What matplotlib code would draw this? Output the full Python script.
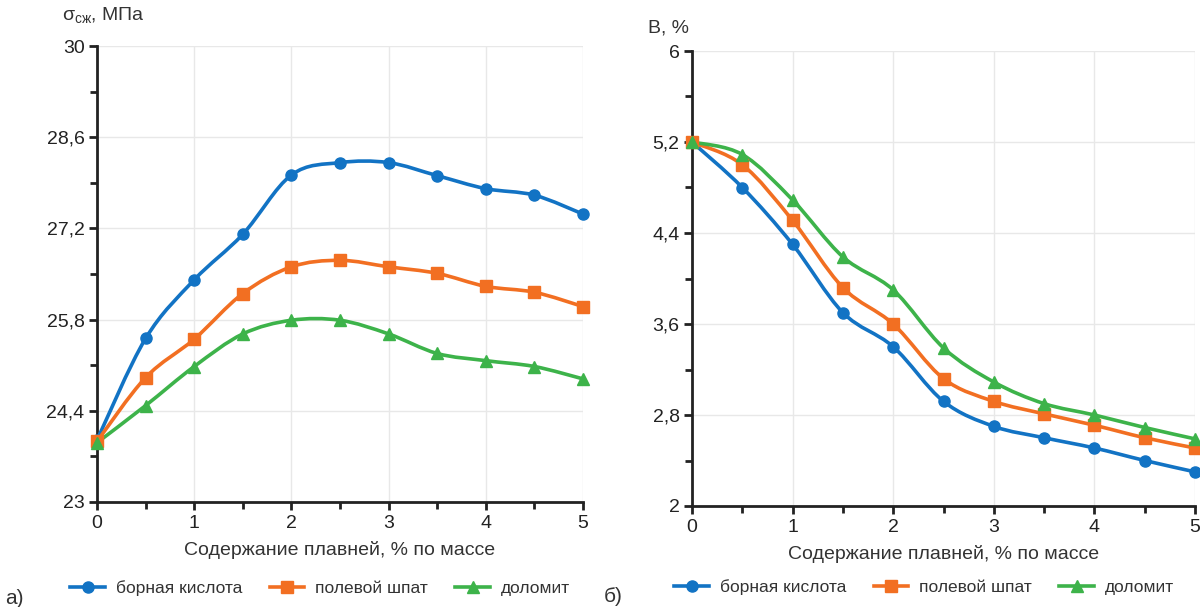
import matplotlib
matplotlib.use('Agg')
import matplotlib.pyplot as plt
import numpy as np
from matplotlib.path import Path
from matplotlib.patches import PathPatch
from matplotlib.lines import Line2D
from matplotlib.ticker import MultipleLocator, FuncFormatter

plt.rcParams['font.family'] = ['Liberation Sans', 'DejaVu Sans']

# Данные (содержание плавней, % по массе)
x_vals = [0, 0.5, 1, 1.5, 2, 2.5, 3, 3.5, 4, 4.5, 5]

# а) прочность при сжатии, МПа
sigma_bor = [23.95, 25.51, 26.41, 27.11, 28.02, 28.21, 28.21, 28.01, 27.81, 27.71, 27.42]
sigma_shpat = [23.93, 24.91, 25.50, 26.20, 26.61, 26.71, 26.61, 26.51, 26.31, 26.22, 26.00]
sigma_dolomit = [23.91, 24.48, 25.08, 25.58, 25.79, 25.79, 25.58, 25.28, 25.17, 25.08, 24.89]

# б) водопоглощение, %
b_bor = [5.2, 4.80, 4.30, 3.70, 3.40, 2.92, 2.70, 2.60, 2.51, 2.40, 2.30]
b_shpat = [5.2, 5.00, 4.51, 3.92, 3.60, 3.12, 2.92, 2.81, 2.71, 2.60, 2.51]
b_dolomit = [5.2, 5.09, 4.69, 4.19, 3.90, 3.39, 3.09, 2.90, 2.80, 2.69, 2.59]

names = ['борная кислота', 'полевой шпат', 'доломит']
colors = ['#1273c4', '#f26f22', '#3db34a']
markers = ['o', 's', '^']


def smooth_path(xs, ys, k=1/6):
    # кривая Безье через точки (как "сглаженная линия" в Excel)
    verts = [(xs[0], ys[0])]
    codes = [Path.MOVETO]
    n = len(xs)
    for i in range(n - 1):
        x0, y0 = (xs[i - 1], ys[i - 1]) if i > 0 else (xs[i], ys[i])
        x1, y1 = xs[i], ys[i]
        x2, y2 = xs[i + 1], ys[i + 1]
        x3, y3 = (xs[i + 2], ys[i + 2]) if i + 2 < n else (x2, y2)
        c1 = (x1 + (x2 - x0) * k, y1 + (y2 - y0) * k)
        c2 = (x2 - (x3 - x1) * k, y2 - (y3 - y1) * k)
        verts += [c1, c2, (x2, y2)]
        codes += [Path.CURVE4] * 3
    return Path(verts, codes)


def fmt_num(v, pos):
    s = ('%.1f' % v).rstrip('0').rstrip('.')
    return s.replace('.', ',')


def draw_panel(ax, series, ylim, ystep, leg_xy):
    for ys, c, m, name in zip(series, colors, markers, names):
        ax.add_patch(PathPatch(smooth_path(x_vals, ys), fill=False,
                               edgecolor=c, lw=2.6, zorder=3, clip_on=False))
        ax.plot(x_vals, ys, linestyle='none', marker=m, color=c,
                markersize=8, zorder=4, clip_on=False)
    ax.set_xlim(0, 5)
    ax.set_ylim(*ylim)
    ax.xaxis.set_major_locator(MultipleLocator(1))
    ax.xaxis.set_minor_locator(MultipleLocator(0.5))
    ax.set_yticks(np.arange(ylim[0], ylim[1] + 1e-6, ystep))
    ax.set_yticks(np.arange(ylim[0] + ystep / 2, ylim[1], ystep), minor=True)
    ax.yaxis.set_major_formatter(FuncFormatter(fmt_num))
    ax.grid(True, which='major', color='#e8e8e8', lw=1)
    ax.set_axisbelow(True)
    for s in ['top', 'right']:
        ax.spines[s].set_visible(False)
    for s in ['left', 'bottom']:
        ax.spines[s].set_linewidth(2)
        ax.spines[s].set_color('#222222')
    ax.tick_params(which='both', direction='out', width=2, color='#222222',
                   labelsize=14, labelcolor='#222222', pad=3)
    ax.tick_params(which='major', length=6)
    ax.tick_params(which='minor', length=5)
    ax.set_xlabel('Содержание плавней, % по массе', fontsize=14,
                  color='#333333', labelpad=7)
    handles = [Line2D([], [], color=c, marker=m, lw=2.6, markersize=8)
               for c, m in zip(colors, markers)]
    fig.legend(handles, names, loc='center', bbox_to_anchor=leg_xy,
               bbox_transform=fig.transFigure,
               ncol=3, frameon=False, fontsize=12.5, handlelength=2.0,
               columnspacing=1.6, handletextpad=0.6, labelcolor='#333333')


fig = plt.figure(figsize=(12, 6.07), dpi=100)
ax1 = fig.add_axes([97/1200, 1 - 502/607, 486/1200, 456/607])
ax2 = fig.add_axes([692/1200, 1 - 506/607, 503/1200, 455/607])

draw_panel(ax1, [sigma_bor, sigma_shpat, sigma_dolomit], (23, 30), 1.4,
           (320/1200, 1 - 588/607))
draw_panel(ax2, [b_bor, b_shpat, b_dolomit], (2, 6), 0.8,
           (924/1200, 1 - 587/607))

fig.text(62/1200, 1 - 16/607, r'σ$_\mathregular{сж}$, МПа', fontsize=14,
         color='#333333', va='center')
fig.text(648/1200, 1 - 28/607, 'В, %', fontsize=14, color='#333333', va='center')
fig.text(5/1200, 1 - 598/607, 'а)', fontsize=15, color='#333333', va='center')
fig.text(604/1200, 1 - 597/607, 'б)', fontsize=15, color='#333333', va='center')

fig.savefig('out.png', dpi=100)
